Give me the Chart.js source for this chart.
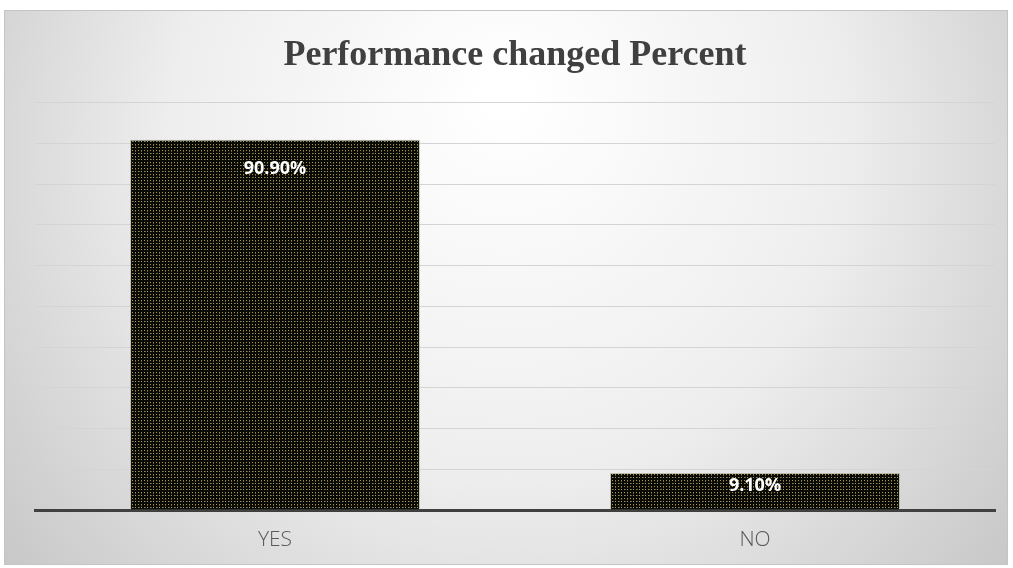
<!DOCTYPE html>
<html><head><meta charset="utf-8">
<script src="https://cdn.jsdelivr.net/npm/chart.js@4/dist/chart.umd.min.js"></script>
<style>html,body{margin:0;padding:0;background:#fff;}#wrap{width:1013px;height:568px;position:relative;}</style>
</head><body><div id="wrap"><canvas id="c" width="1013" height="568"></canvas></div>
<script>
const categories = ["YES", "NO"];
const percentValues = [90.9, 9.1];
const valueLabels = ["90.90%", "9.10%"];
const yTicks = [0, 10, 20, 30, 40, 50, 60, 70, 80, 90, 100];

function makePattern() {
  const t = document.createElement('canvas');
  t.width = 6; t.height = 6;
  const g = t.getContext('2d');
  g.fillStyle = '#0a0a05'; g.fillRect(0, 0, 6, 6);
  const dots = [[0,0,'#c8922e'],[3,0,'#8c8a5a'],[0,3,'#8c8a5a'],[3,3,'#9a9a9a'],[1,3,'#6a5a30'],[3,1,'#6a5a30']];
  dots.forEach(([x,y,c]) => { g.fillStyle = c; g.fillRect(x, y, 1, 1); });
  return g.createPattern(t, 'repeat');
}

const bgPlugin = {
  id: 'bg',
  beforeDraw(chart) {
    const ctx = chart.ctx;
    ctx.save();
    const g = ctx.createRadialGradient(506, 90, 20, 506, 200, 720);
    g.addColorStop(0, '#ffffff');
    g.addColorStop(0.45, '#eeeeee');
    g.addColorStop(1, '#bcbcbc');
    ctx.fillStyle = g;
    ctx.fillRect(4, 10, 1004, 555);
    ctx.strokeStyle = '#c4c4c4';
    ctx.lineWidth = 1;
    ctx.strokeRect(4.5, 10.5, 1003, 554);
    ctx.restore();
  }
};

const labelPlugin = {
  id: 'vlabels',
  afterDatasetsDraw(chart) {
    const ctx = chart.ctx;
    const meta = chart.getDatasetMeta(0);
    ctx.save();
    ctx.fillStyle = '#ffffff';
    ctx.font = 'bold 18px "Open Sans"';
    ctx.textAlign = 'center';
    ctx.textBaseline = 'middle';
    meta.data.forEach((bar, i) => {
      const h = bar.base - bar.y;
      const y = h > 80 ? bar.y + 29 : bar.y + 13;
      ctx.fillText(valueLabels[i], bar.x, y);
    });
    ctx.restore();
  }
};

new Chart(document.getElementById('c'), {
  type: 'bar',
  data: {
    labels: categories,
    datasets: [{
      data: percentValues,
      backgroundColor: makePattern(),
      borderColor: 'rgba(170,170,150,0.7)',
      borderWidth: 1,
      categoryPercentage: 1.0,
      barPercentage: 0.604
    }]
  },
  options: {
    responsive: false,
    animation: false,
    devicePixelRatio: 1,
    layout: { padding: { left: 35, right: 18, top: 10, bottom: 10 } },
    plugins: {
      legend: { display: false },
      tooltip: { enabled: false },
      title: {
        display: true,
        text: 'Performance changed Percent',
        color: '#404040',
        font: { family: '"Liberation Serif"', size: 36, weight: 'bold', lineHeight: 1.2 },
        padding: { top: 24, bottom: 25.4 }
      }
    },
    scales: {
      x: {
        afterFit(axis) { axis.height = 48; },
        grid: { display: false, drawTicks: false },
        border: { display: true, color: '#404040', width: 3 },
        ticks: { color: '#595959', font: { family: '"Open Sans"', size: 21, weight: 300 }, padding: 17 }
      },
      y: {
        min: 0, max: 100,
        afterBuildTicks(axis) { axis.ticks = yTicks.map(v => ({ value: v })); },
        afterFit(axis) { axis.width = 0; },
        grid: { color: '#d4d4d4', lineWidth: 1, drawTicks: false },
        border: { display: false },
        ticks: { display: false }
      }
    }
  },
  plugins: [bgPlugin, labelPlugin]
});
</script>
</body></html>
